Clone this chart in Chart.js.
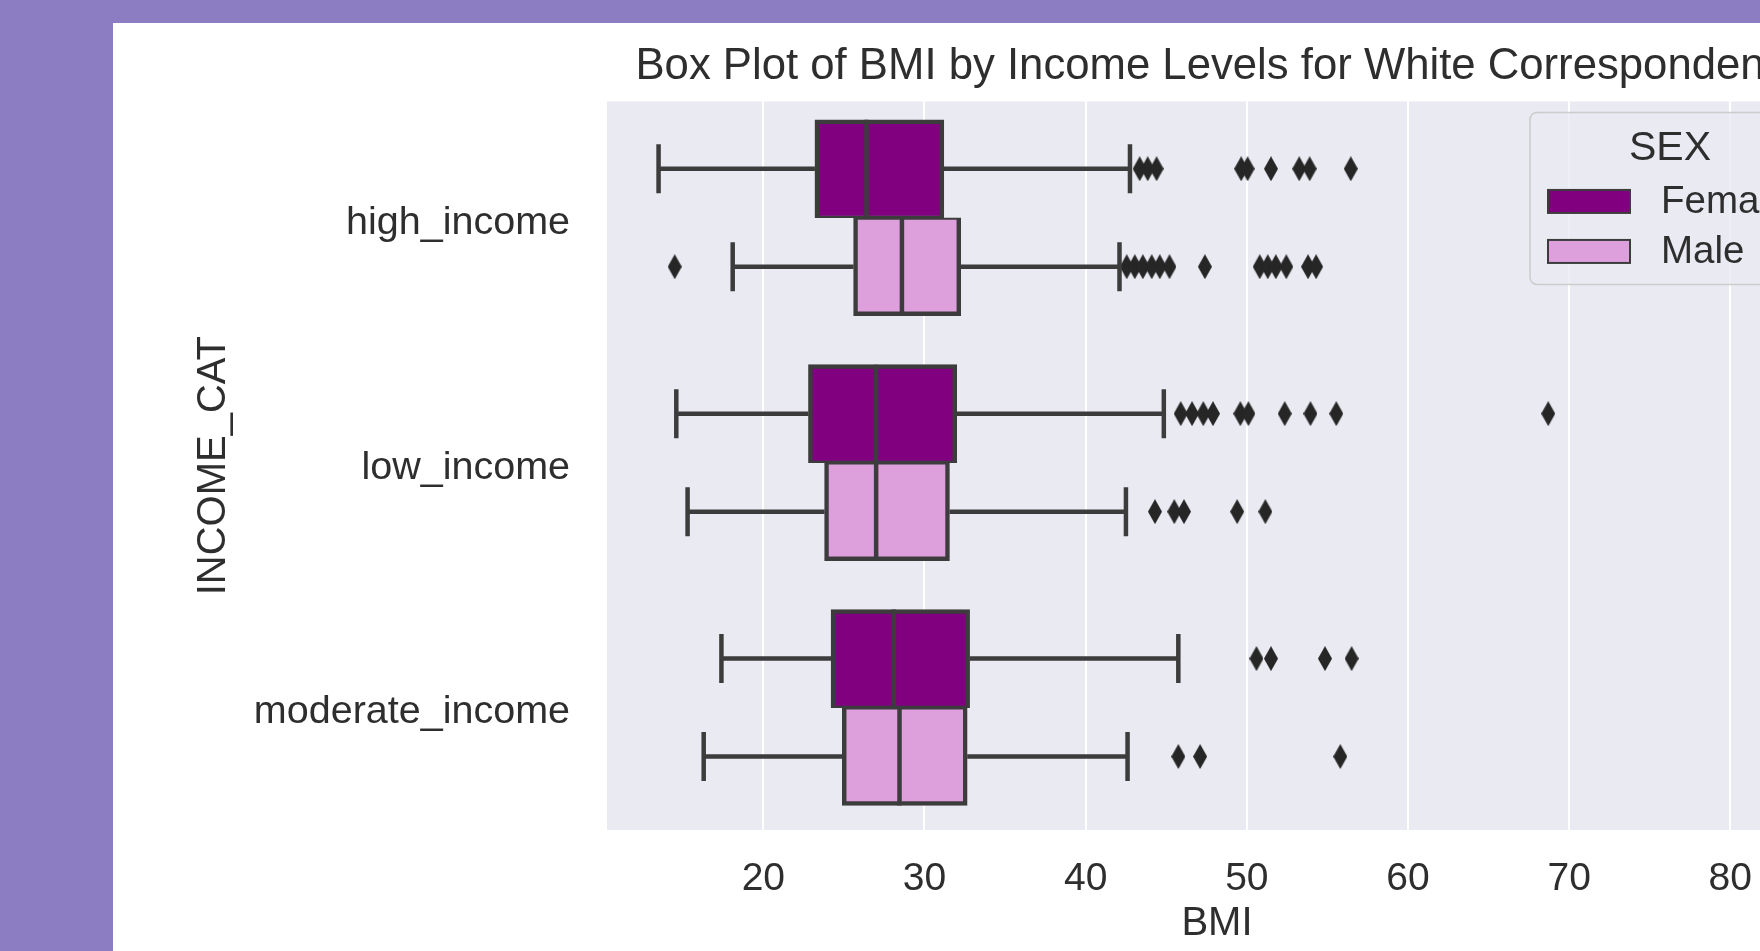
<!DOCTYPE html>
<html>
<head>
<meta charset="utf-8">
<title>BMI by income level</title>
<script src="https://cdn.jsdelivr.net/npm/chart.js@4.4.1/dist/chart.umd.min.js"></script>
<style>
  html, body { margin: 0; padding: 0; }
  body { width: 1760px; height: 951px; overflow: hidden; background: #8c7dc2; position: relative; }
  #panel { position: absolute; left: 113px; top: 23px; width: 1647px; height: 928px; background: #ffffff; overflow: hidden; }
  #chart { display: block; }
</style>
</head>
<body>
<div id="panel"><canvas id="chart" width="1760" height="928"></canvas></div>
<script>
// ---- data -------------------------------------------------------------
const incomeLevels = ['high_income', 'low_income', 'moderate_income'];
const sexLabels = ['Female', 'Male'];
const bmiTicks = [20, 30, 40, 50, 60, 70, 80];

// box statistics per income level: lower whisker, Q1, median, Q3, upper whisker
const femaleLow    = [13.5, 14.6, 17.4];
const femaleQ1     = [23.2, 22.8, 24.2];
const femaleMedian = [26.4, 27.0, 28.1];
const femaleQ3     = [31.2, 32.0, 32.8];
const femaleHigh   = [42.75, 44.85, 45.75];

const maleLow    = [18.1, 15.3, 16.3];
const maleQ1     = [25.6, 23.8, 24.9];
const maleMedian = [28.6, 27.0, 28.45];
const maleQ3     = [32.25, 31.55, 32.65];
const maleHigh   = [42.1, 42.5, 42.6];

// observations beyond the whiskers
const femaleOutliers = [
  [43.35, 43.85, 44.4, 49.65, 50.05, 51.5, 53.25, 53.9, 56.45],
  [45.9, 46.6, 47.3, 47.9, 49.6, 50.1, 52.35, 53.95, 55.55, 68.7],
  [50.6, 51.5, 54.85, 56.5]
];
const maleOutliers = [
  [14.5, 42.55, 43.05, 43.55, 44.1, 44.6, 45.2, 47.4, 50.8, 51.3, 51.8, 52.45, 53.8, 54.3],
  [44.3, 45.5, 46.1, 49.4, 51.15],
  [45.75, 47.1, 55.8]
];

// ---- styling ----------------------------------------------------------
const FEMALE_FILL = '#800080';
const MALE_FILL = '#dda0dd';
const LINE_GRAY = '#3c3c3c';
const FLIER_GRAY = '#262626';
const TEXT = '#2e2e2e';
const FONT = "'Liberation Sans', Arial, Helvetica, sans-serif";
const HUE_SHIFT = 0.2;   // each hue box sits 0.2 category units off centre
const BOX_HALF = 0.2;    // half of a box's thickness, in category units
const CAP_HALF = 0.1;    // half of a whisker cap's length
const LINE_W = 4.5;

// ---- helpers that turn the statistics into marks ----------------------
const GAP = { x: null, y: null };
function boxes(q1, q3, shift) {
  return incomeLevels.map((_, i) => ({ x: [q1[i], q3[i]], y: i + shift }));
}
function whiskers(low, q1, q3, high, shift) {
  const pts = [];
  incomeLevels.forEach((_, i) => {
    const y = i + shift;
    pts.push({ x: low[i], y }, { x: q1[i], y }, GAP);
    pts.push({ x: q3[i], y }, { x: high[i], y }, GAP);
  });
  return pts;
}
function caps(low, high, shift) {
  const pts = [];
  incomeLevels.forEach((_, i) => {
    const y = i + shift;
    pts.push({ x: low[i], y: y - CAP_HALF }, { x: low[i], y: y + CAP_HALF }, GAP);
    pts.push({ x: high[i], y: y - CAP_HALF }, { x: high[i], y: y + CAP_HALF }, GAP);
  });
  return pts;
}
function medians(med, shift) {
  const pts = [];
  incomeLevels.forEach((_, i) => {
    const y = i + shift;
    pts.push({ x: med[i], y: y - BOX_HALF }, { x: med[i], y: y + BOX_HALF }, GAP);
  });
  return pts;
}
function fliers(outliers, shift) {
  const pts = [];
  outliers.forEach((vals, i) => vals.forEach(v => pts.push({ x: v, y: i + shift })));
  return pts;
}
function thinDiamond(w, h, color) {
  const c = document.createElement('canvas');
  c.width = w; c.height = h;
  const g = c.getContext('2d');
  g.fillStyle = color;
  g.beginPath();
  g.moveTo(w / 2, 0); g.lineTo(w, h / 2); g.lineTo(w / 2, h); g.lineTo(0, h / 2);
  g.closePath(); g.fill();
  return c;
}
const diamond = thinDiamond(14, 25, FLIER_GRAY);

const segmentStyle = () => ({
  type: 'line', indexAxis: 'x', xAxisID: 'x', yAxisID: 'y', borderColor: LINE_GRAY, borderWidth: LINE_W,
  pointRadius: 0, fill: false, spanGaps: false, borderCapStyle: 'butt', tension: 0
});
const boxStyle = (fill, border) => ({
  type: 'bar', indexAxis: 'y', xAxisID: 'x', yAxisID: 'y', order: 2,
  backgroundColor: fill, borderColor: LINE_GRAY, borderWidth: border,
  borderSkipped: false, grouped: false, categoryPercentage: 1.0, barPercentage: 1.0
});

// ---- plugins ----------------------------------------------------------
const plotBackground = {
  id: 'plotBackground',
  beforeDraw(chart) {
    const { ctx, chartArea: a } = chart;
    ctx.save();
    ctx.fillStyle = '#eaeaf2';
    ctx.fillRect(a.left, a.top, a.right - a.left, a.bottom - a.top);
    ctx.restore();
  }
};

function roundedRect(ctx, x, y, w, h, r) {
  ctx.beginPath();
  ctx.moveTo(x + r, y);
  ctx.lineTo(x + w - r, y); ctx.arcTo(x + w, y, x + w, y + r, r);
  ctx.lineTo(x + w, y + h - r); ctx.arcTo(x + w, y + h, x + w - r, y + h, r);
  ctx.lineTo(x + r, y + h); ctx.arcTo(x, y + h, x, y + h - r, r);
  ctx.lineTo(x, y + r); ctx.arcTo(x, y, x + r, y, r);
  ctx.closePath();
}

const sexLegend = {
  id: 'sexLegend',
  afterDraw(chart) {
    const { ctx, chartArea: a } = chart;
    const left = a.left + 923, top = a.top + 11, w = 280, h = 172;
    ctx.save();
    roundedRect(ctx, left, top, w, h, 7);
    ctx.fillStyle = 'rgba(234,234,242,0.8)';
    ctx.fill();
    ctx.strokeStyle = '#cccccc';
    ctx.lineWidth = 1.5;
    ctx.stroke();

    ctx.fillStyle = TEXT;
    ctx.textBaseline = 'middle';
    ctx.textAlign = 'center';
    ctx.font = `41px ${FONT}`;
    ctx.fillText('SEX', left + w / 2, top + 36);

    const bars = chart.data.datasets.filter(d => d.type === 'bar');
    ctx.font = `38.5px ${FONT}`;
    ctx.textAlign = 'left';
    bars.forEach((ds, k) => {
      const cy = top + 89 + k * 50;
      ctx.fillStyle = ds.backgroundColor;
      ctx.fillRect(left + 18, cy - 11.5, 82, 23);
      ctx.strokeStyle = LINE_GRAY;
      ctx.lineWidth = 2;
      ctx.strokeRect(left + 18, cy - 11.5, 82, 23);
      ctx.fillStyle = TEXT;
      ctx.fillText(ds.label, left + 131, cy + 1);
    });
    ctx.restore();
  }
};

// ---- chart ------------------------------------------------------------
new Chart(document.getElementById('chart'), {
  type: 'bar',
  data: {
    datasets: [
      Object.assign(boxStyle(FEMALE_FILL, { top: LINE_W, bottom: LINE_W / 2, left: LINE_W, right: LINE_W }),
        { label: sexLabels[0], data: boxes(femaleQ1, femaleQ3, -HUE_SHIFT) }),
      Object.assign(boxStyle(MALE_FILL, { top: LINE_W / 2, bottom: LINE_W, left: LINE_W, right: LINE_W }),
        { label: sexLabels[1], data: boxes(maleQ1, maleQ3, HUE_SHIFT) }),
      Object.assign(segmentStyle(), { label: 'Female whiskers', order: 3, data: whiskers(femaleLow, femaleQ1, femaleQ3, femaleHigh, -HUE_SHIFT) }),
      Object.assign(segmentStyle(), { label: 'Male whiskers', order: 3, data: whiskers(maleLow, maleQ1, maleQ3, maleHigh, HUE_SHIFT) }),
      Object.assign(segmentStyle(), { label: 'Female caps', order: 1, data: caps(femaleLow, femaleHigh, -HUE_SHIFT) }),
      Object.assign(segmentStyle(), { label: 'Male caps', order: 1, data: caps(maleLow, maleHigh, HUE_SHIFT) }),
      Object.assign(segmentStyle(), { label: 'Female medians', order: 0, data: medians(femaleMedian, -HUE_SHIFT) }),
      Object.assign(segmentStyle(), { label: 'Male medians', order: 0, data: medians(maleMedian, HUE_SHIFT) }),
      {
        type: 'scatter', label: 'Female outliers', xAxisID: 'x', yAxisID: 'y', order: 1,
        data: fliers(femaleOutliers, -HUE_SHIFT), pointStyle: diamond, pointRadius: 7
      },
      {
        type: 'scatter', label: 'Male outliers', xAxisID: 'x', yAxisID: 'y', order: 1,
        data: fliers(maleOutliers, HUE_SHIFT), pointStyle: diamond, pointRadius: 7
      }
    ]
  },
  options: {
    indexAxis: 'y',
    responsive: false,
    maintainAspectRatio: false,
    animation: false,
    events: [],
    layout: { padding: { left: 0, top: 0, right: 46, bottom: 0 } },
    scales: {
      x: {
        type: 'linear', position: 'bottom', min: 10.3, max: 86, offset: false,
        afterBuildTicks: s => { s.ticks = bmiTicks.map(v => ({ value: v })); },
        afterFit: s => { s.height = 121; },
        grid: { color: '#ffffff', lineWidth: 2, drawTicks: false, offset: false },
        border: { display: false },
        ticks: { color: TEXT, font: { family: FONT, size: 39 }, padding: 26 },
        title: { display: true, text: 'BMI', color: TEXT, font: { family: FONT, size: 40 }, padding: { top: 3, bottom: 3 } }
      },
      y: {
        type: 'linear', position: 'left', min: -0.475, max: 2.5, reverse: true, offset: false,
        afterBuildTicks: s => { s.ticks = incomeLevels.map((_, i) => ({ value: i })); },
        afterFit: s => { s.width = 494; },
        grid: { display: false, offset: false },
        border: { display: false },
        ticks: {
          color: TEXT, font: { family: FONT, size: 39.5 }, padding: 29, labelOffset: 5,
          callback: v => incomeLevels[v]
        },
        title: { display: true, text: 'INCOME_CAT', color: TEXT, font: { family: FONT, size: 40 }, padding: { top: 77, bottom: 0 } }
      }
    },
    plugins: {
      legend: { display: false },
      tooltip: { enabled: false },
      title: {
        display: true, fullSize: false,
        text: 'Box Plot of BMI by Income Levels for White Correspondents',
        color: TEXT, font: { family: FONT, size: 43.7, weight: 'normal' },
        padding: { top: 18, bottom: 8 }
      }
    }
  },
  plugins: [plotBackground, sexLegend]
});
</script>
</body>
</html>
